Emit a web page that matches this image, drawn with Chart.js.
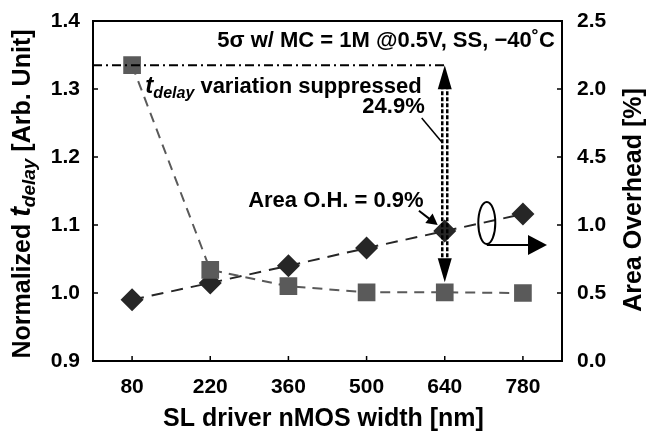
<!DOCTYPE html>
<html>
<head>
<meta charset="utf-8">
<script src="https://cdn.jsdelivr.net/npm/chart.js@4"></script>
<style>
html, body { margin: 0; padding: 0; background: #fff; }
#wrap { width: 648px; height: 432px; }
</style>
</head>
<body>
<div id="wrap"><canvas id="myChart"></canvas></div>
<script>
// data
var widths = ["80", "220", "360", "500", "640", "780"];
var tdelay = [1.335, 1.034, 1.010, 1.001, 1.001, 1.000];
var areaOH = [0.45, 0.574, 0.70, 0.83, 0.955, 1.08];
var rightTickLabels = ["0.0", "0.5", "1.0", "4.5", "2.0", "2.5"];

var FAM = '"Liberation Sans", Arial, sans-serif';

function f(size, italic) {
    return (italic ? "italic " : "") + "bold " + size + "px " + FAM;
}

// draw a run of text pieces with their own fonts, aligned on x
function drawParts(ctx, parts, x, y, align) {
    var total = 0;
    parts.forEach(function (p) {
        ctx.font = p.font;
        p.w = ctx.measureText(p.text).width;
        total += p.w;
    });
    var cx = x;
    if (align === "center") cx = x - total / 2;
    if (align === "right") cx = x - total;
    ctx.textAlign = "left";
    ctx.textBaseline = "alphabetic";
    parts.forEach(function (p) {
        ctx.font = p.font;
        ctx.fillText(p.text, cx, y + (p.dy || 0));
        cx += p.w;
    });
}

function arrowHead(ctx, x1, y1, x2, y2, len, half) {
    var a = Math.atan2(y2 - y1, x2 - x1);
    ctx.beginPath();
    ctx.moveTo(x2, y2);
    ctx.lineTo(x2 - len * Math.cos(a) + half * Math.sin(a), y2 - len * Math.sin(a) - half * Math.cos(a));
    ctx.lineTo(x2 - len * Math.cos(a) - half * Math.sin(a), y2 - len * Math.sin(a) + half * Math.cos(a));
    ctx.closePath();
    ctx.fill();
}

// keep the plot box exactly where the layout puts it
function noVPad(s) {
    s.paddingTop = 0;
    s.paddingBottom = 0;
}

var extras = {
    id: "extras",
    afterDatasetsDraw: function (chart) {
        var ctx = chart.ctx;
        var x = chart.scales.x, y = chart.scales.y;
        var a = chart.chartArea;
        var X = function (i) { return x.getPixelForValue(i); };
        var Y = function (v) { return y.getPixelForValue(v); };

        ctx.save();
        ctx.fillStyle = "#000";
        ctx.strokeStyle = "#000";

        // frame
        ctx.lineWidth = 2;
        ctx.strokeRect(a.left, a.top, a.right - a.left, a.bottom - a.top);

        // inward tick marks
        ctx.lineWidth = 1.5;
        ctx.beginPath();
        x.ticks.forEach(function (t, i) {
            var px = x.getPixelForTick(i);
            ctx.moveTo(px, a.bottom); ctx.lineTo(px, a.bottom - 5);
        });
        y.ticks.forEach(function (t, i) {
            var py = y.getPixelForTick(i);
            ctx.moveTo(a.left, py); ctx.lineTo(a.left + 5, py);
        });
        chart.scales.y1.ticks.forEach(function (t, i) {
            var py = chart.scales.y1.getPixelForTick(i);
            ctx.moveTo(a.right, py); ctx.lineTo(a.right - 5, py);
        });
        ctx.stroke();

        // dash-dot reference line at the 80 nm value
        var top = Y(tdelay[0]);
        var xa = X(4);
        ctx.lineWidth = 2;
        ctx.setLineDash([9, 4, 2, 4]);
        ctx.beginPath();
        ctx.moveTo(a.left, top);
        ctx.lineTo(xa, top);
        ctx.stroke();

        // double dotted vertical arrow
        var bot = Y(tdelay[4]) - 10;
        ctx.setLineDash([4, 2]);
        ctx.lineWidth = 2.5;
        ctx.beginPath();
        ctx.moveTo(xa - 2.5, top + 20); ctx.lineTo(xa - 2.5, bot - 20);
        ctx.moveTo(xa + 2.5, top + 20); ctx.lineTo(xa + 2.5, bot - 20);
        ctx.stroke();
        ctx.setLineDash([]);
        arrowHead(ctx, xa, top + 30, xa, top, 24, 7);
        arrowHead(ctx, xa, bot - 30, xa, bot, 24, 7);

        // texts
        ctx.fillStyle = "#000";
        drawParts(ctx, [{ text: "5σ w/ MC = 1M @0.5V, SS, −40˚C", font: f(22) }], X(5.41), Y(1.362), "right");
        drawParts(ctx, [
            { text: "t", font: f(24, true) },
            { text: "delay", font: f(16, true), dy: 5 },
            { text: " variation suppressed", font: f(22) }
        ], X(3.705), Y(1.294), "right");
        drawParts(ctx, [{ text: "24.9%", font: f(22) }], X(3.744), Y(1.264), "right");
        drawParts(ctx, [{ text: "Area O.H. = 0.9%", font: f(22) }], X(3.73), Y(1.127), "right");

        // leader from 24.9% to arrow
        ctx.lineWidth = 1.5;
        ctx.beginPath();
        ctx.moveTo(X(3.705), Y(1.2574));
        ctx.lineTo(X(3.962), Y(1.222));
        ctx.stroke();

        // arrow to the 640 nm diamond
        ctx.lineWidth = 2;
        ctx.beginPath();
        ctx.moveTo(X(3.67), Y(1.121));
        ctx.lineTo(X(3.85), Y(1.105));
        ctx.stroke();
        arrowHead(ctx, X(3.67), Y(1.121), X(3.91), Y(1.100), 11, 6);

        // ellipse + arrow pointing to right axis
        var ex = X(4.538), ey = Y(1.103);
        ctx.lineWidth = 2;
        ctx.beginPath();
        ctx.ellipse(ex, ey, 8.5, 21, 0, 0, Math.PI * 2);
        ctx.stroke();
        var hy = Y(1.0706);
        ctx.beginPath();
        ctx.moveTo(ex, hy);
        ctx.lineTo(X(5.1), hy);
        ctx.stroke();
        arrowHead(ctx, ex, hy, X(5.308), hy, 19, 10);

        ctx.restore();
    },
    afterDraw: function (chart) {
        var ctx = chart.ctx;
        var a = chart.chartArea;
        var midY = (a.top + a.bottom) / 2 + 3;
        ctx.save();
        ctx.fillStyle = "#000";

        // x title
        drawParts(ctx, [{ text: "SL driver nMOS width [nm]", font: f(25) }], (a.left + a.right) / 2 - 4, 426, "center");

        // left title
        ctx.save();
        ctx.translate(21, midY);
        ctx.rotate(-Math.PI / 2);
        drawParts(ctx, [
            { text: "Normalized ", font: f(25) },
            { text: "t", font: f(29, true) },
            { text: "delay", font: f(19, true), dy: 5 },
            { text: " [Arb. Unit]", font: f(25) }
        ], 0, 9, "center");
        ctx.restore();

        // right title
        ctx.save();
        ctx.translate(632, midY + 6);
        ctx.rotate(-Math.PI / 2);
        drawParts(ctx, [{ text: "Area Overhead [%]", font: f(25) }], 0, 9, "center");
        ctx.restore();

        ctx.restore();
    }
};

var ctx = document.getElementById("myChart").getContext("2d");
var myChart = new Chart(ctx, {
    type: "line",
    data: {
        labels: widths,
        datasets: [
            {
                label: "tdelay",
                data: tdelay,
                yAxisID: "y",
                borderColor: "#5a5a5a",
                backgroundColor: "#5a5a5a",
                borderWidth: 2,
                borderDash: [10, 7],
                pointStyle: "rect",
                pointRadius: 12.5,
                pointBorderWidth: 0,
                fill: false
            },
            {
                label: "area",
                data: areaOH,
                yAxisID: "y1",
                borderColor: "#262626",
                backgroundColor: "#262626",
                borderWidth: 2,
                borderDash: [12, 8],
                pointStyle: "rectRot",
                pointRadius: 11.5,
                pointBorderWidth: 0,
                fill: false
            }
        ]
    },
    options: {
        responsive: true,
        maintainAspectRatio: false,
        animation: false,
        layout: { padding: { top: 21 } },
        plugins: {
            legend: { display: false },
            tooltip: { enabled: false }
        },
        scales: {
            x: {
                offset: true,
                grid: { display: false, drawTicks: false },
                border: { display: false },
                ticks: {
                    color: "#000",
                    padding: 14,
                    font: { family: FAM, size: 21, weight: "bold" }
                },
                afterFit: function (s) { s.height = 71; }
            },
            y: {
                position: "left",
                min: 0.9,
                max: 1.4,
                grid: { display: false, drawTicks: false },
                border: { display: false },
                ticks: {
                    stepSize: 0.1,
                    color: "#000",
                    padding: 13,
                    font: { family: FAM, size: 21, weight: "bold" },
                    callback: function (v) { return v.toFixed(1); }
                },
                afterFit: function (s) { s.width = 93; noVPad(s); }
            },
            y1: {
                position: "right",
                min: 0,
                max: 2.5,
                grid: { display: false, drawTicks: false },
                border: { display: false },
                ticks: {
                    stepSize: 0.5,
                    color: "#000",
                    padding: 15,
                    font: { family: FAM, size: 21, weight: "bold" },
                    callback: function (v, i) { return rightTickLabels[i]; }
                },
                afterFit: function (s) { s.width = 86; noVPad(s); }
            }
        }
    },
    plugins: [extras]
});
</script>
</body>
</html>
